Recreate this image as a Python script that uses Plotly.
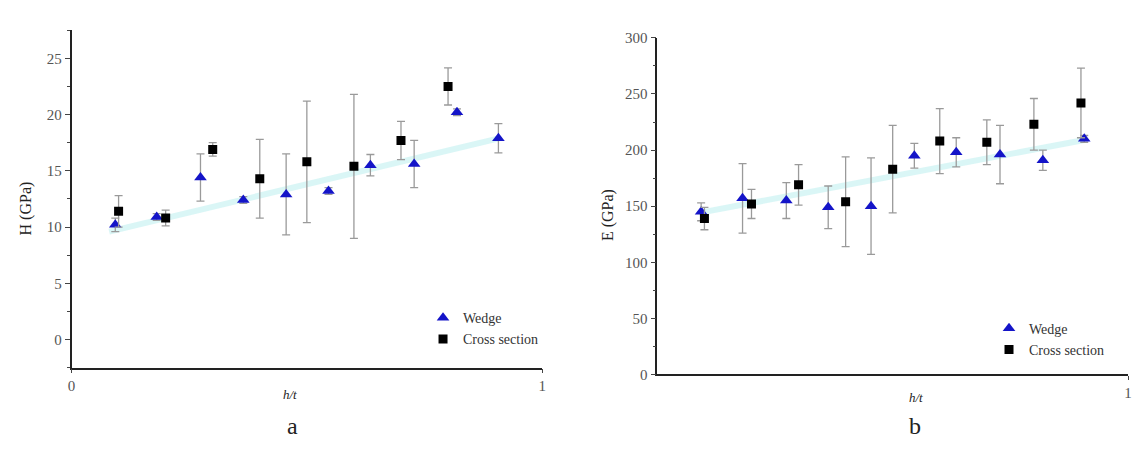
import plotly.graph_objects as go

# ---- data -------------------------------------------------------------
# (a) hardness H (GPa) versus h/t
wedge_x_a = [0.093, 0.181, 0.274, 0.365, 0.456, 0.546, 0.635, 0.728, 0.819, 0.907]
wedge_H = [10.2, 10.9, 14.4, 12.4, 12.9, 13.2, 15.5, 15.6, 20.2, 17.9]
wedge_H_err = [0.6, 0.3, 2.1, 0.3, 3.6, 0.3, 0.95, 2.1, 0.3, 1.3]

cross_x_a = [0.1, 0.2, 0.3, 0.4, 0.5, 0.6, 0.7, 0.8]
cross_H = [11.4, 10.8, 16.9, 14.3, 15.8, 15.4, 17.7, 22.5]
cross_H_err = [1.4, 0.7, 0.6, 3.5, 5.4, 6.4, 1.7, 1.65]

trend_x_a = [0.08, 0.91]
trend_H = [9.6, 17.9]

# (b) modulus E (GPa) versus h/t
wedge_x_b = [0.093, 0.181, 0.274, 0.363, 0.454, 0.546, 0.635, 0.728, 0.819, 0.907]
wedge_E = [145, 157, 155, 149, 150, 195, 198, 196, 191, 210]
wedge_E_err = [8, 31, 16, 19, 43, 11, 13, 26, 9, 3]

cross_x_b = [0.1, 0.2, 0.3, 0.4, 0.5, 0.6, 0.7, 0.8, 0.9]
cross_E = [139, 152, 169, 154, 183, 208, 207, 223, 242]
cross_E_err = [10, 13, 18, 40, 39, 29, 20, 23, 31]

trend_x_b = [0.089, 0.907]
trend_E = [144, 209]

# ---- styling ----------------------------------------------------------
W, H = 1135, 449
SERIF = "Liberation Serif"
BLUE = "#1414c8"
ERR = dict(type="data", color="#9a9a9a", thickness=1.3, width=4)
TREND = "rgba(140,228,228,0.32)"


def px(x):
    return x / W


def py(y):
    return 1 - y / H


fig = go.Figure()

# panel a
fig.add_trace(go.Scatter(x=trend_x_a, y=trend_H, mode="lines",
                         line=dict(color=TREND, width=6), showlegend=False,
                         hoverinfo="skip", xaxis="x", yaxis="y"))
fig.add_trace(go.Scatter(x=wedge_x_a, y=wedge_H, mode="markers", name="Wedge",
                         marker=dict(symbol="triangle-up", size=11, color=BLUE),
                         error_y=dict(array=wedge_H_err, **ERR),
                         xaxis="x", yaxis="y", legend="legend"))
fig.add_trace(go.Scatter(x=cross_x_a, y=cross_H, mode="markers", name="Cross section",
                         marker=dict(symbol="square", size=9, color="black"),
                         error_y=dict(array=cross_H_err, **ERR),
                         xaxis="x", yaxis="y", legend="legend"))

# panel b
fig.add_trace(go.Scatter(x=trend_x_b, y=trend_E, mode="lines",
                         line=dict(color=TREND, width=6), showlegend=False,
                         hoverinfo="skip", xaxis="x2", yaxis="y2"))
fig.add_trace(go.Scatter(x=wedge_x_b, y=wedge_E, mode="markers", name="Wedge",
                         marker=dict(symbol="triangle-up", size=11, color=BLUE),
                         error_y=dict(array=wedge_E_err, **ERR),
                         xaxis="x2", yaxis="y2", legend="legend2"))
fig.add_trace(go.Scatter(x=cross_x_b, y=cross_E, mode="markers", name="Cross section",
                         marker=dict(symbol="square", size=9, color="black"),
                         error_y=dict(array=cross_E_err, **ERR),
                         xaxis="x2", yaxis="y2", legend="legend2"))

axis_common = dict(showgrid=False, zeroline=False, showline=True,
                   linecolor="#222", linewidth=1.5, ticks="outside",
                   tickcolor="#444", tickwidth=1,
                   tickfont=dict(family=SERIF, size=15, color="#555"))

fig.update_layout(
    width=W, height=H,
    margin=dict(l=0, r=0, t=0, b=0),
    paper_bgcolor="white", plot_bgcolor="white",
    font=dict(family=SERIF),
    showlegend=True,
    xaxis=dict(domain=[px(68), px(542)], range=[0, 1], tickvals=[0, 1],
               ticklen=4, anchor="y", **axis_common),
    yaxis=dict(domain=[py(373), py(23)], range=[-2.5, 27.5], tick0=0, dtick=5,
               ticklen=5, anchor="x",
               minor=dict(dtick=2.5, ticks="outside", ticklen=3, tickcolor="#444"),
               **axis_common),
    xaxis2=dict(domain=[px(658), px(1132)], range=[0, 1], tickvals=[1],
                ticklen=4, anchor="y2", **axis_common),
    yaxis2=dict(domain=[py(380), py(31)], range=[0, 300], tick0=0, dtick=50,
                ticklen=5, anchor="x2",
                minor=dict(dtick=25, ticks="outside", ticklen=3, tickcolor="#444"),
                **axis_common),
    legend=dict(x=px(422), y=py(305), xanchor="left", yanchor="top",
                bgcolor="rgba(0,0,0,0)", font=dict(family=SERIF, size=14, color="#333"),
                tracegroupgap=0, itemwidth=30),
    legend2=dict(x=px(992), y=py(316), xanchor="left", yanchor="top",
                 bgcolor="rgba(0,0,0,0)", font=dict(family=SERIF, size=14, color="#333"),
                 tracegroupgap=0, itemwidth=30),
)

labels = [
    dict(x=px(288), y=py(401), text="<i>h/t</i>", size=13, angle=0),
    dict(x=px(918), y=py(404), text="<i>h/t</i>", size=13, angle=0),
    dict(x=px(291), y=py(433), text="a", size=24, angle=0),
    dict(x=px(917), y=py(433), text="b", size=24, angle=0),
    dict(x=px(22), y=py(208), text="H (GPa)", size=16, angle=-90),
    dict(x=px(609), y=py(215), text="E (GPa)", size=16, angle=-90),
]
for lab in labels:
    fig.add_annotation(x=lab["x"], y=lab["y"], xref="paper", yref="paper",
                       text=lab["text"], showarrow=False, textangle=lab["angle"],
                       xanchor="center", yanchor="middle",
                       font=dict(family=SERIF, size=lab["size"], color="#222"))

fig.write_html("out.html")
